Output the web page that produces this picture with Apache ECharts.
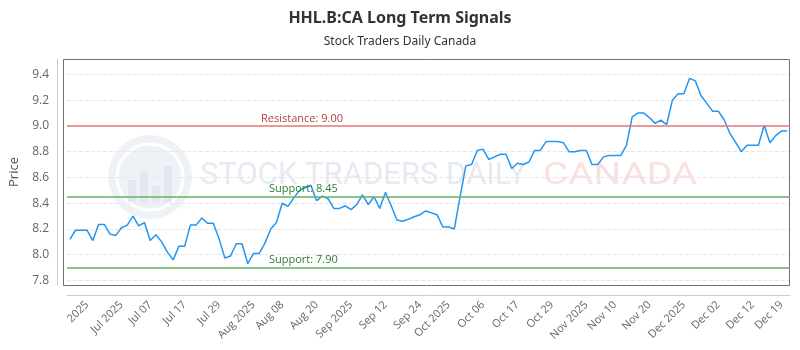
<!DOCTYPE html>
<html>
<head>
<meta charset="utf-8">
<script src="https://cdn.jsdelivr.net/npm/echarts@6/dist/echarts.min.js"></script>
<style>
  html, body { margin: 0; padding: 0; background: #fff; }
  #container { width: 800px; height: 350px; }
</style>
</head>
<body>
<div id="container"></div>
<script>
// closing prices, one per trading day
var prices = [
  8.12, 8.19, 8.19, 8.19, 8.11, 8.235, 8.235, 8.16, 8.15, 8.21, 8.23, 8.30, 8.225, 8.25, 8.11, 8.155,
  8.10, 8.02, 7.96, 8.065, 8.065, 8.23, 8.23, 8.285, 8.245, 8.245, 8.125, 7.975, 7.99, 8.085, 8.085, 7.93,
  8.01, 8.01, 8.09, 8.20, 8.25, 8.40, 8.375, 8.44, 8.50, 8.52, 8.54, 8.42, 8.455, 8.435, 8.36, 8.36,
  8.38, 8.35, 8.39, 8.465, 8.39, 8.45, 8.36, 8.485, 8.38, 8.27, 8.26, 8.275, 8.295, 8.31, 8.34, 8.325,
  8.31, 8.215, 8.215, 8.20, 8.45, 8.69, 8.70, 8.81, 8.82, 8.74, 8.76, 8.78, 8.78, 8.67, 8.71, 8.70,
  8.72, 8.81, 8.81, 8.88, 8.88, 8.88, 8.87, 8.80, 8.80, 8.81, 8.81, 8.70, 8.70, 8.76, 8.77, 8.77,
  8.77, 8.85, 9.07, 9.10, 9.10, 9.065, 9.02, 9.045, 9.01, 9.20, 9.25, 9.25, 9.37, 9.35, 9.235, 9.175,
  9.115, 9.115, 9.05, 8.945, 8.875, 8.80, 8.85, 8.85, 8.85, 9.005, 8.87, 8.925, 8.96, 8.96
];

// x axis labels and the day index they sit on
var tickLabels = ['2025', 'Jul 2025', 'Jul 07', 'Jul 17', 'Jul 29', 'Aug 2025', 'Aug 08', 'Aug 20',
  'Sep 2025', 'Sep 12', 'Sep 24', 'Oct 2025', 'Oct 06', 'Oct 17', 'Oct 29', 'Nov 2025', 'Nov 10',
  'Nov 20', 'Dec 2025', 'Dec 02', 'Dec 12', 'Dec 19'];
var tickIdx = [3, 9, 14, 20, 26, 32, 37, 43, 49, 55, 61, 66, 72, 78, 84, 90, 95, 101, 107, 113, 119, 124];

var resistance = [9.00];
var supports = [8.45, 7.90];

var yMin = 7.765, yMax = 9.52;

var days = prices.map(function(p, i) { return String(i); });
var labelAt = {};
tickIdx.forEach(function(k, j) { labelAt[k] = tickLabels[j]; });

var chart = echarts.init(document.getElementById('container'));

var lines = [];
resistance.forEach(function(v) {
  lines.push({
    yAxis: v,
    lineStyle: { color: 'rgba(232,120,120,0.75)', width: 2, type: 'solid' },
    label: { formatter: 'Resistance: ' + v.toFixed(2), color: '#b04040', padding: [0, 0, 0, 192] }
  });
});
supports.forEach(function(v) {
  lines.push({
    yAxis: v,
    lineStyle: { color: 'rgba(110,180,110,0.8)', width: 2, type: 'solid' },
    label: { formatter: 'Support: ' + v.toFixed(2), color: '#2e7d32', padding: [0, 0, 0, 200] }
  });
});

chart.setOption({
  backgroundColor: '#fff',
  animation: false,
  textStyle: { fontFamily: 'Open Sans' },
  title: {
    text: 'HHL.B:CA Long Term Signals',
    subtext: 'Stock Traders Daily Canada',
    left: 'center',
    top: 5,
    itemGap: 10,
    textStyle: { fontSize: 16, fontWeight: 'bold', color: '#333', fontFamily: 'Noto Sans' },
    subtextStyle: { fontSize: 12, color: '#333', fontFamily: 'Noto Sans' }
  },
  graphic: [
    { type: 'circle', z: 0, shape: { cx: 150, cy: 177, r: 42 }, style: { fill: '#eef2f7' } },
    { type: 'circle', z: 0, shape: { cx: 150, cy: 177, r: 33 }, style: { fill: 'none', stroke: '#fff', lineWidth: 3 } },
    { type: 'rect', z: 0, shape: { x: 128, y: 180, width: 8, height: 22 }, style: { fill: '#e2e8f0' } },
    { type: 'rect', z: 0, shape: { x: 140, y: 172, width: 8, height: 30 }, style: { fill: '#e2e8f0' } },
    { type: 'rect', z: 0, shape: { x: 152, y: 186, width: 8, height: 16 }, style: { fill: '#e2e8f0' } },
    { type: 'rect', z: 0, shape: { x: 164, y: 166, width: 8, height: 36 }, style: { fill: '#e2e8f0' } },
    { type: 'text', z: 0, x: 200, y: 161, style: { text: 'STOCK TRADERS DAILY', fill: '#e6eaf1', font: '31px Roboto' } },
    { type: 'text', z: 0, x: 543, y: 161, scaleX: 1.25, style: { text: 'CANADA', fill: '#fbe0e0', font: '31px Roboto' } },
    // frame around the plot area
    { type: 'rect', z: 1, silent: true, shape: { x: 63.5, y: 59.5, width: 726, height: 226 },
      style: { fill: 'none', stroke: '#707070', lineWidth: 1 } }
  ],
  grid: {
    left: 63, right: 10, top: 59, bottom: 65, show: false
  },
  xAxis: {
    type: 'category',
    data: days,
    boundaryGap: true,
    offset: 10,
    axisLine: { onZero: false, lineStyle: { color: '#ccc' } },
    axisTick: { show: false },
    splitLine: { show: false },
    axisLabel: {
      rotate: 45,
      fontSize: 11,
      color: '#666',
      margin: 8,
      interval: function(i) { return labelAt[i] !== undefined; },
      formatter: function(v, i) { return labelAt[i] || ''; }
    }
  },
  yAxis: {
    type: 'value',
    min: yMin,
    max: yMax,
    splitNumber: 9,
    minInterval: 0.2,
    maxInterval: 0.2,
    offset: 10,
    name: 'Price',
    nameLocation: 'middle',
    nameGap: 36,
    nameTextStyle: { fontSize: 13, color: '#555' },
    axisLine: { show: true, onZero: false, lineStyle: { color: '#ccc' } },
    axisTick: { show: false },
    axisLabel: {
      fontSize: 12, color: '#666', margin: 8,
      showMinLabel: false, showMaxLabel: false,
      formatter: function(v) { return v.toFixed(1); }
    },
    splitLine: { show: true, showMinLine: false, showMaxLine: false, lineStyle: { color: '#e6e6e6', type: 'dashed' } }
  },
  series: [{
    type: 'line',
    data: prices,
    showSymbol: false,
    symbol: 'none',
    lineStyle: { color: '#2196f3', width: 1.5 },
    z: 3,
    markLine: {
      silent: true,
      symbol: 'none',
      label: { position: 'insideStartTop', fontSize: 11, distance: 2 },
      data: lines
    }
  }]
});
</script>
</body>
</html>
